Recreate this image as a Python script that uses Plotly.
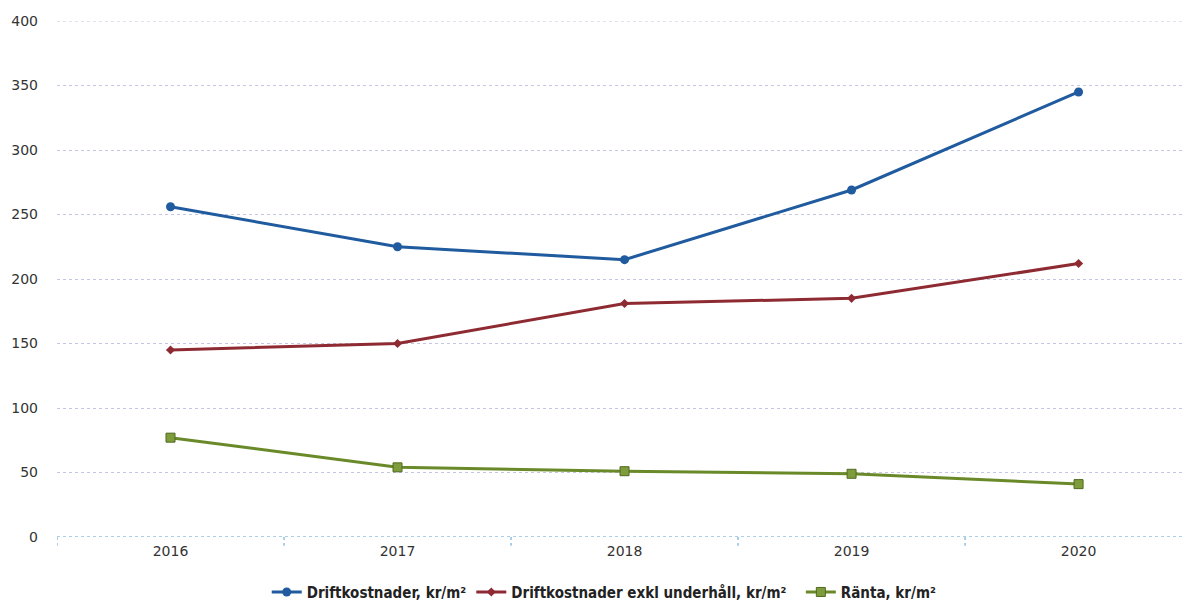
import plotly.graph_objects as go

# Årliga nyckeltal per kvadratmeter
years = ["2016", "2017", "2018", "2019", "2020"]
driftkostnader = [256, 225, 215, 269, 345]
driftkostnader_exkl_underhall = [145, 150, 181, 185, 212]
ranta = [77, 54, 51, 49, 41]

y_ticks = [0, 50, 100, 150, 200, 250, 300, 350, 400]

fig = go.Figure()

fig.add_trace(go.Scatter(
    x=years, y=driftkostnader, name="Driftkostnader, kr/m²",
    mode="lines+markers",
    line=dict(color="#1f5b9e", width=3),
    marker=dict(symbol="circle", size=9, color="#1f5b9e"),
))
fig.add_trace(go.Scatter(
    x=years, y=driftkostnader_exkl_underhall, name="Driftkostnader exkl underhåll, kr/m²  ",
    mode="lines+markers",
    line=dict(color="#8e2a32", width=3),
    marker=dict(symbol="diamond", size=7, color="#8e2a32"),
))
fig.add_trace(go.Scatter(
    x=years, y=ranta, name="Ränta, kr/m²",
    mode="lines+markers",
    line=dict(color="#6a8a2a", width=3),
    marker=dict(symbol="square", size=9, color="#7f9c3c",
                line=dict(color="#4f6a1e", width=1)),
))

fig.update_layout(
    width=1183, height=601,
    margin=dict(l=57, r=0, t=21, b=64, autoexpand=False),
    paper_bgcolor="white", plot_bgcolor="white",
    font=dict(family="DejaVu Sans", size=14, color="#333333"),
    showlegend=True,
    legend=dict(
        orientation="h", x=0.486, xanchor="center", y=-0.107, yanchor="middle",
        font=dict(family="DejaVu Sans Condensed", size=15, color="#222222", weight="bold"),
        itemwidth=30, tracegroupgap=0,
    ),
    xaxis=dict(
        type="category", range=[-0.5, 4.46],
        showgrid=False, zeroline=False,
        showline=False,
        ticks="", tickfont=dict(size=14, color="#333333"),
        ticklabelstandoff=4,
    ),
    yaxis=dict(
        range=[0, 400], tickvals=y_ticks,
        showgrid=True, gridcolor="#c3c6e4", griddash="dot", gridwidth=1,
        zeroline=False, showline=False, ticks="",
        tickfont=dict(size=14, color="#333333"),
        ticklabelstandoff=18,
    ),
)

# Top gridline at the upper end of the value axis
fig.add_shape(type="line", xref="paper", yref="y", x0=0, x1=1, y0=400, y1=400,
              line=dict(color="#c3c6e4", width=1, dash="dot"), layer="below")

# Category axis line with boundary ticks between the years
fig.add_shape(type="line", xref="paper", yref="y", x0=0, x1=1, y0=0, y1=0,
              line=dict(color="#8fc0e0", width=1.5, dash="dot"), layer="below")
for i in range(len(years)):
    fig.add_shape(type="line", xref="x", yref="paper", x0=i - 0.5, x1=i - 0.5,
                  y0=0, y1=-0.017, line=dict(color="#8fc0e0", width=1.5, dash="dot"))

fig.write_html("out.html")
